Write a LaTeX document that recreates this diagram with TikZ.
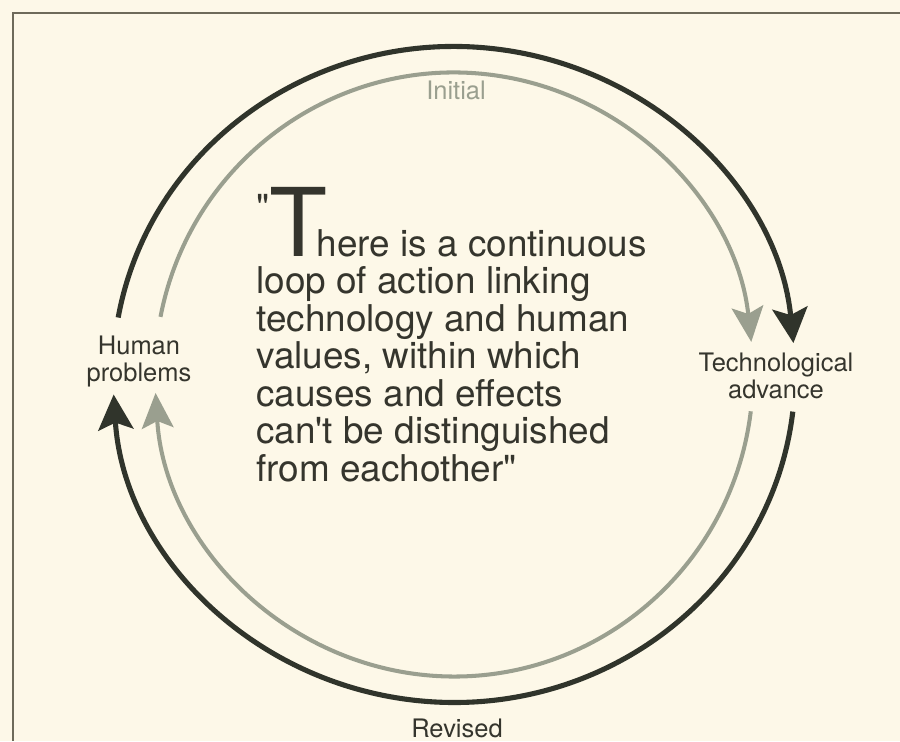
\documentclass[tikz,border=0pt]{standalone}
\usepackage{fontspec}
\setmainfont{TeX Gyre Heros}
\usetikzlibrary{arrows.meta}

\definecolor{fon}{HTML}{FDF8E8}      % фон страницы
\definecolor{darkline}{HTML}{30342B} % тёмная петля
\definecolor{greyline}{HTML}{9A9F8F} % серая петля
\definecolor{ink}{HTML}{35352D}      % текст
\definecolor{ramka}{HTML}{6E6A5A}    % рамка

\begin{document}
\begin{tikzpicture}[
        x=0.02cm, y=0.02cm, % 1 пиксель = 0.02 см
        darkarc/.style = {draw=darkline, line width=2.9pt, -{Stealth[length=20pt, width=20pt, inset=4pt]}},
        greyarc/.style = {draw=greyline, line width=2.3pt, -{Stealth[length=20pt, width=18pt, inset=4pt]}},
        side/.style = {align=center, inner sep=0pt, text=ink, font=\fontsize{14.5}{15.5}\selectfont}, % подписи
        citata/.style = {align=left, inner sep=0pt, text=ink, font=\fontsize{21}{21.3}\selectfont}, % цитата
    ]

    \fill[fon] (0,0) rectangle (900,741);
    \useasboundingbox (0,0) rectangle (900,741);
    \draw[ramka, line width=0.6pt] (13,0) -- (13,728) -- (900,728);

    \coordinate (C) at (454,366.5); % центр петли

    \node[side] (hp) at (139,379.5) {Human\\problems};
    \node[side] (ta) at (776,365) {Technological\\advance};
    \node[side, text=greyline] (ini) at (456,651) {Initial};
    \node[side] (rev) at (457,13) {Revised};

    \node[citata, anchor=north west] (quote) at (256,554)
        {\raisebox{20.5pt}{\textquotedbl}{\fontsize{54}{54}\selectfont T}\kern-6pt here is a continuous\\
         loop of action linking\\
         technology and human\\
         values, within which\\
         causes and effects\\
         can\textquotesingle t be distinguished\\
         from eachother\textquotedbl};

    % концы дуг
    \coordinate (d1) at ([shift={(170:341 and 328)}]C);
    \coordinate (d2) at ([shift={(-6.5:341 and 328)}]C);
    \coordinate (g1) at ([shift={(169:299 and 302)}]C);
    \coordinate (g2) at ([shift={(-7:299 and 302)}]C);

    \draw[darkarc] (d1) arc[start angle=170, end angle=5.5, x radius=341, y radius=328];
    \draw[darkarc] (d2) arc[start angle=-6.5, end angle=-176.5, x radius=341, y radius=328];
    \draw[greyarc] (g1) arc[start angle=169, end angle=6.2, x radius=299, y radius=302];
    \draw[greyarc] (g2) arc[start angle=-7, end angle=-176.5, x radius=299, y radius=302];
\end{tikzpicture}
\end{document}
